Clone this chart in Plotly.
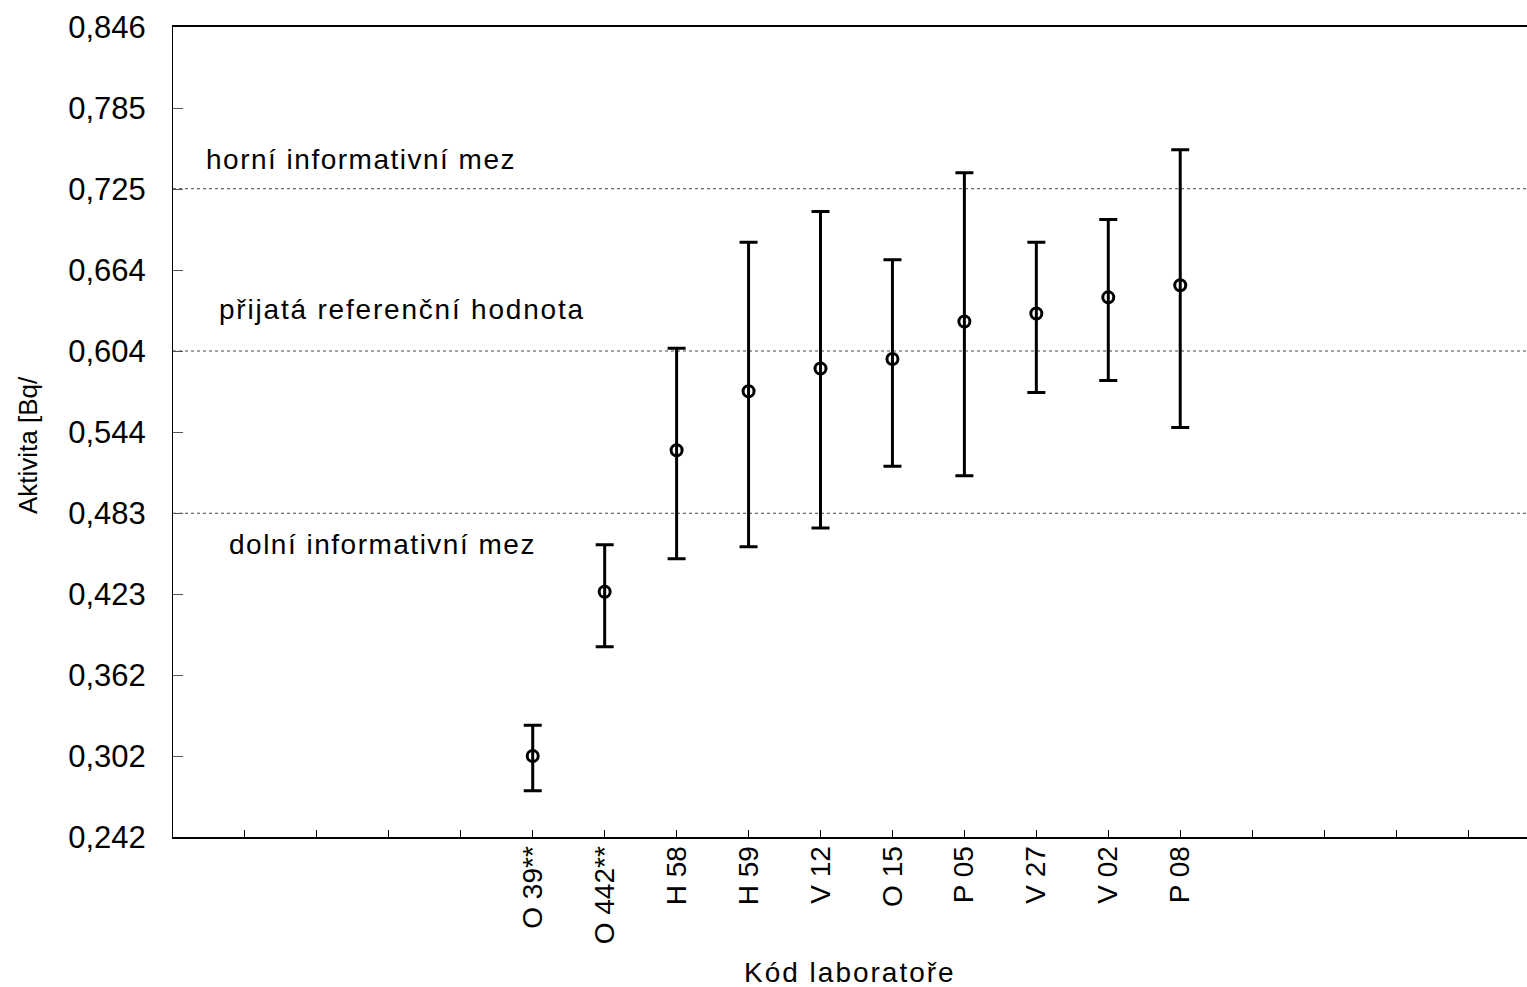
import plotly.graph_objects as go

# ---- data ----
labs = ["O 39**", "O 442**", "H 58", "H 59", "V 12", "O 15", "P 05", "V 27", "V 02", "P 08"]
values = [0.302, 0.4245, 0.530, 0.574, 0.591, 0.598, 0.626, 0.632, 0.644, 0.653]
upper = [0.325, 0.4595, 0.606, 0.685, 0.708, 0.672, 0.737, 0.685, 0.702, 0.754]
lower = [0.276, 0.3835, 0.449, 0.458, 0.472, 0.518, 0.511, 0.573, 0.582, 0.547]

ref_value = 0.604
upper_limit = 0.725
lower_limit = 0.483

y_tick_vals = [0.2416, 0.302, 0.3624, 0.4228, 0.4832, 0.5436, 0.604, 0.6644, 0.7248, 0.7852, 0.8456]
y_tick_text = ["0,242", "0,302", "0,362", "0,423", "0,483", "0,544", "0,604", "0,664", "0,725", "0,785", "0,846"]

n_slots = 18          # tick slots along x axis
first_slot = 5        # slot of first laboratory
x_max = 18.82

xs = [first_slot + i for i in range(len(labs))]
err_plus = [u - v for u, v in zip(upper, values)]
err_minus = [v - l for v, l in zip(values, lower)]

slot_vals = list(range(1, n_slots + 1))
slot_text = [""] * n_slots
for x, lab in zip(xs, labs):
    slot_text[x - 1] = lab

FONT = "Liberation Sans, Arial, sans-serif"

fig = go.Figure()

for lvl in [upper_limit, ref_value, lower_limit]:
    fig.add_trace(go.Scatter(
        x=[0, x_max], y=[lvl, lvl], mode="lines",
        line=dict(color="#444444", width=1, dash="dot"),
        hoverinfo="skip", showlegend=False))

fig.add_trace(go.Scatter(
    x=xs, y=values, mode="markers",
    marker=dict(symbol="circle-open", size=11, color="black", line=dict(width=3, color="black")),
    error_y=dict(type="data", symmetric=False, array=err_plus, arrayminus=err_minus,
                 color="black", thickness=3, width=9),
    showlegend=False))

annos = [
    ("horní informativní mez", 0.43, 0.7466, 1.5),
    ("přijatá referenční hodnota", 0.61, 0.6348, 1.8),
    ("dolní informativní mez", 0.75, 0.4595, 1.5),
]
for txt, ax, ay, ls in annos:
    fig.add_annotation(x=ax, y=ay, text=f'<span style="letter-spacing:{ls}px">{txt}</span>',
                       showarrow=False, xanchor="left", yanchor="middle",
                       font=dict(family=FONT, size=28, color="black"))

fig.add_annotation(xref="paper", yref="paper", x=-0.107, y=0.484, text="Aktivita [Bq/",
                   textangle=-90, showarrow=False, xanchor="center", yanchor="middle",
                   font=dict(family=FONT, size=26, color="black"))
fig.add_annotation(xref="paper", yref="paper", x=0.5, y=-0.1667,
                   text='<span style="letter-spacing:2px">Kód laboratoře</span>',
                   showarrow=False, xanchor="center", yanchor="middle",
                   font=dict(family=FONT, size=28, color="black"))

fig.update_layout(
    width=1527, height=987,
    margin=dict(l=173, r=0, t=27, b=150),
    plot_bgcolor="white", paper_bgcolor="white",
    font=dict(family=FONT, color="black"),
)
fig.update_xaxes(
    range=[0, x_max], tickmode="array", tickvals=slot_vals, ticktext=slot_text,
    ticks="inside", ticklen=7, tickcolor="black", tickwidth=1,
    tickangle=-90, tickfont=dict(family=FONT, size=28, color="black"),
    ticklabelstandoff=-4,
    showline=True, linecolor="black", linewidth=2, mirror=True,
    showgrid=False, zeroline=False,
)
fig.update_yaxes(
    range=[0.2416, 0.8456], tickmode="array", tickvals=y_tick_vals, ticktext=y_tick_text,
    ticks="inside", ticklen=10, tickcolor="#555555", tickwidth=1,
    tickfont=dict(family=FONT, size=31, color="black"),
    ticklabelstandoff=20,
    showline=True, linecolor="black", linewidth=1,
    showgrid=False, zeroline=False,
)

fig.write_html("out.html", config={"displayModeBar": False},
               post_script="document.body.style.margin='0px';document.body.style.overflow='hidden';")
